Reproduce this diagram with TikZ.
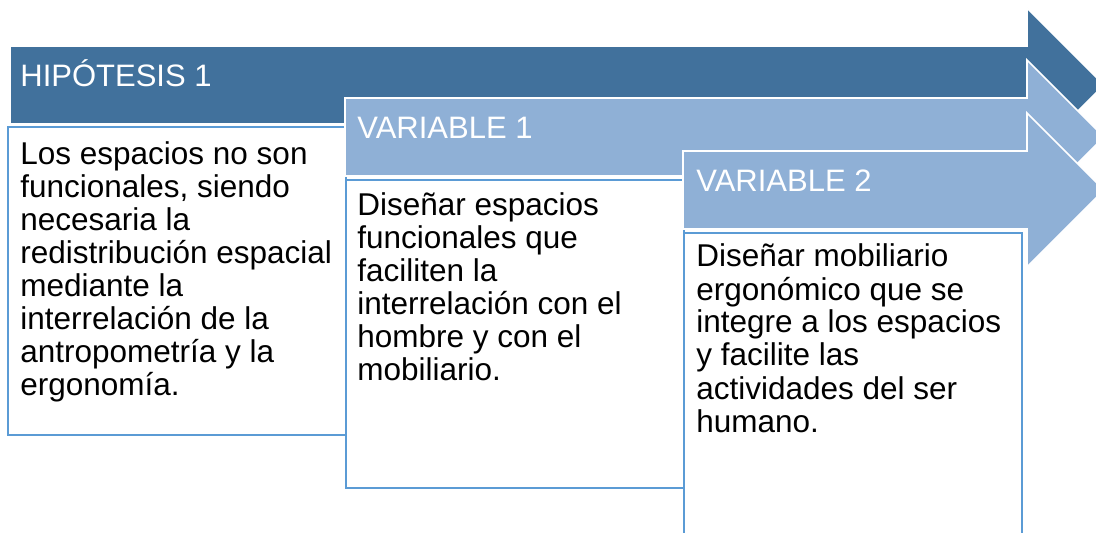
\documentclass[tikz,border=0pt]{standalone}
\usepackage{fontspec}
\setmainfont{Liberation Sans}
\definecolor{hypblue}{HTML}{41719C}
\definecolor{varblue}{HTML}{8FB0D6}
\definecolor{boxline}{HTML}{5B9BD5}

\begin{document}
\begin{tikzpicture}[x=0.5pt, y=-0.5pt,
    headtext/.style={anchor=base west, inner sep=0pt, text=white, font=\fontsize{15.5pt}{18pt}\selectfont},
    bodytext/.style={anchor=base west, inner sep=0pt, align=left, font=\fontsize{15.75pt}{16.5pt}\selectfont},
    textbox/.style={draw=boxline, line width=1.1pt, fill=white},
    arrowshape/.style={draw=white, line width=0.8pt}]
    \useasboundingbox (0,0) rectangle (1096,533);
    \clip (0,0) rectangle (1096,533);

    % Hypothesis (body text placed by its last baseline)
    \path[arrowshape, fill=hypblue] (10,46) -- (1027,46) -- (1027,8) -- (1104,85) -- (1027,162) -- (1027,124) -- (10,124) -- cycle;
    \draw[textbox] (8,127) rectangle (346,435);
    \node (hyp) [headtext] at (20,87) {HIPÓTESIS 1};
    \node (hyptext) [bodytext] at (20,396) {Los espacios no son\\funcionales, siendo\\necesaria la\\redistribución espacial\\mediante la\\interrelación de la\\antropometría y la\\ergonomía.};

    % Variable 1
    \path[arrowshape, fill=varblue] (345,98) -- (1027,98) -- (1027,60) -- (1104,137) -- (1027,214) -- (1027,176) -- (345,176) -- cycle;
    \draw[textbox] (346,180) rectangle (684,488);
    \node (var1) [headtext] at (357,139) {VARIABLE 1};
    \node (var1text) [bodytext] at (357,381) {Diseñar espacios\\funcionales que\\faciliten la\\interrelación con el\\hombre y con el\\mobiliario.};

    % Variable 2
    \path[arrowshape, fill=varblue] (683,151) -- (1027,151) -- (1027,113) -- (1104,190) -- (1027,267) -- (1027,229) -- (683,229) -- cycle;
    \draw[textbox] (684,233) rectangle (1022,541);
    \node (var2) [headtext] at (696,192) {VARIABLE 2};
    \node (var2text) [bodytext] at (696,432) {Diseñar mobiliario\\ergonómico que se\\integre a los espacios\\y facilite las\\actividades del ser\\humano.};
\end{tikzpicture}
\end{document}
